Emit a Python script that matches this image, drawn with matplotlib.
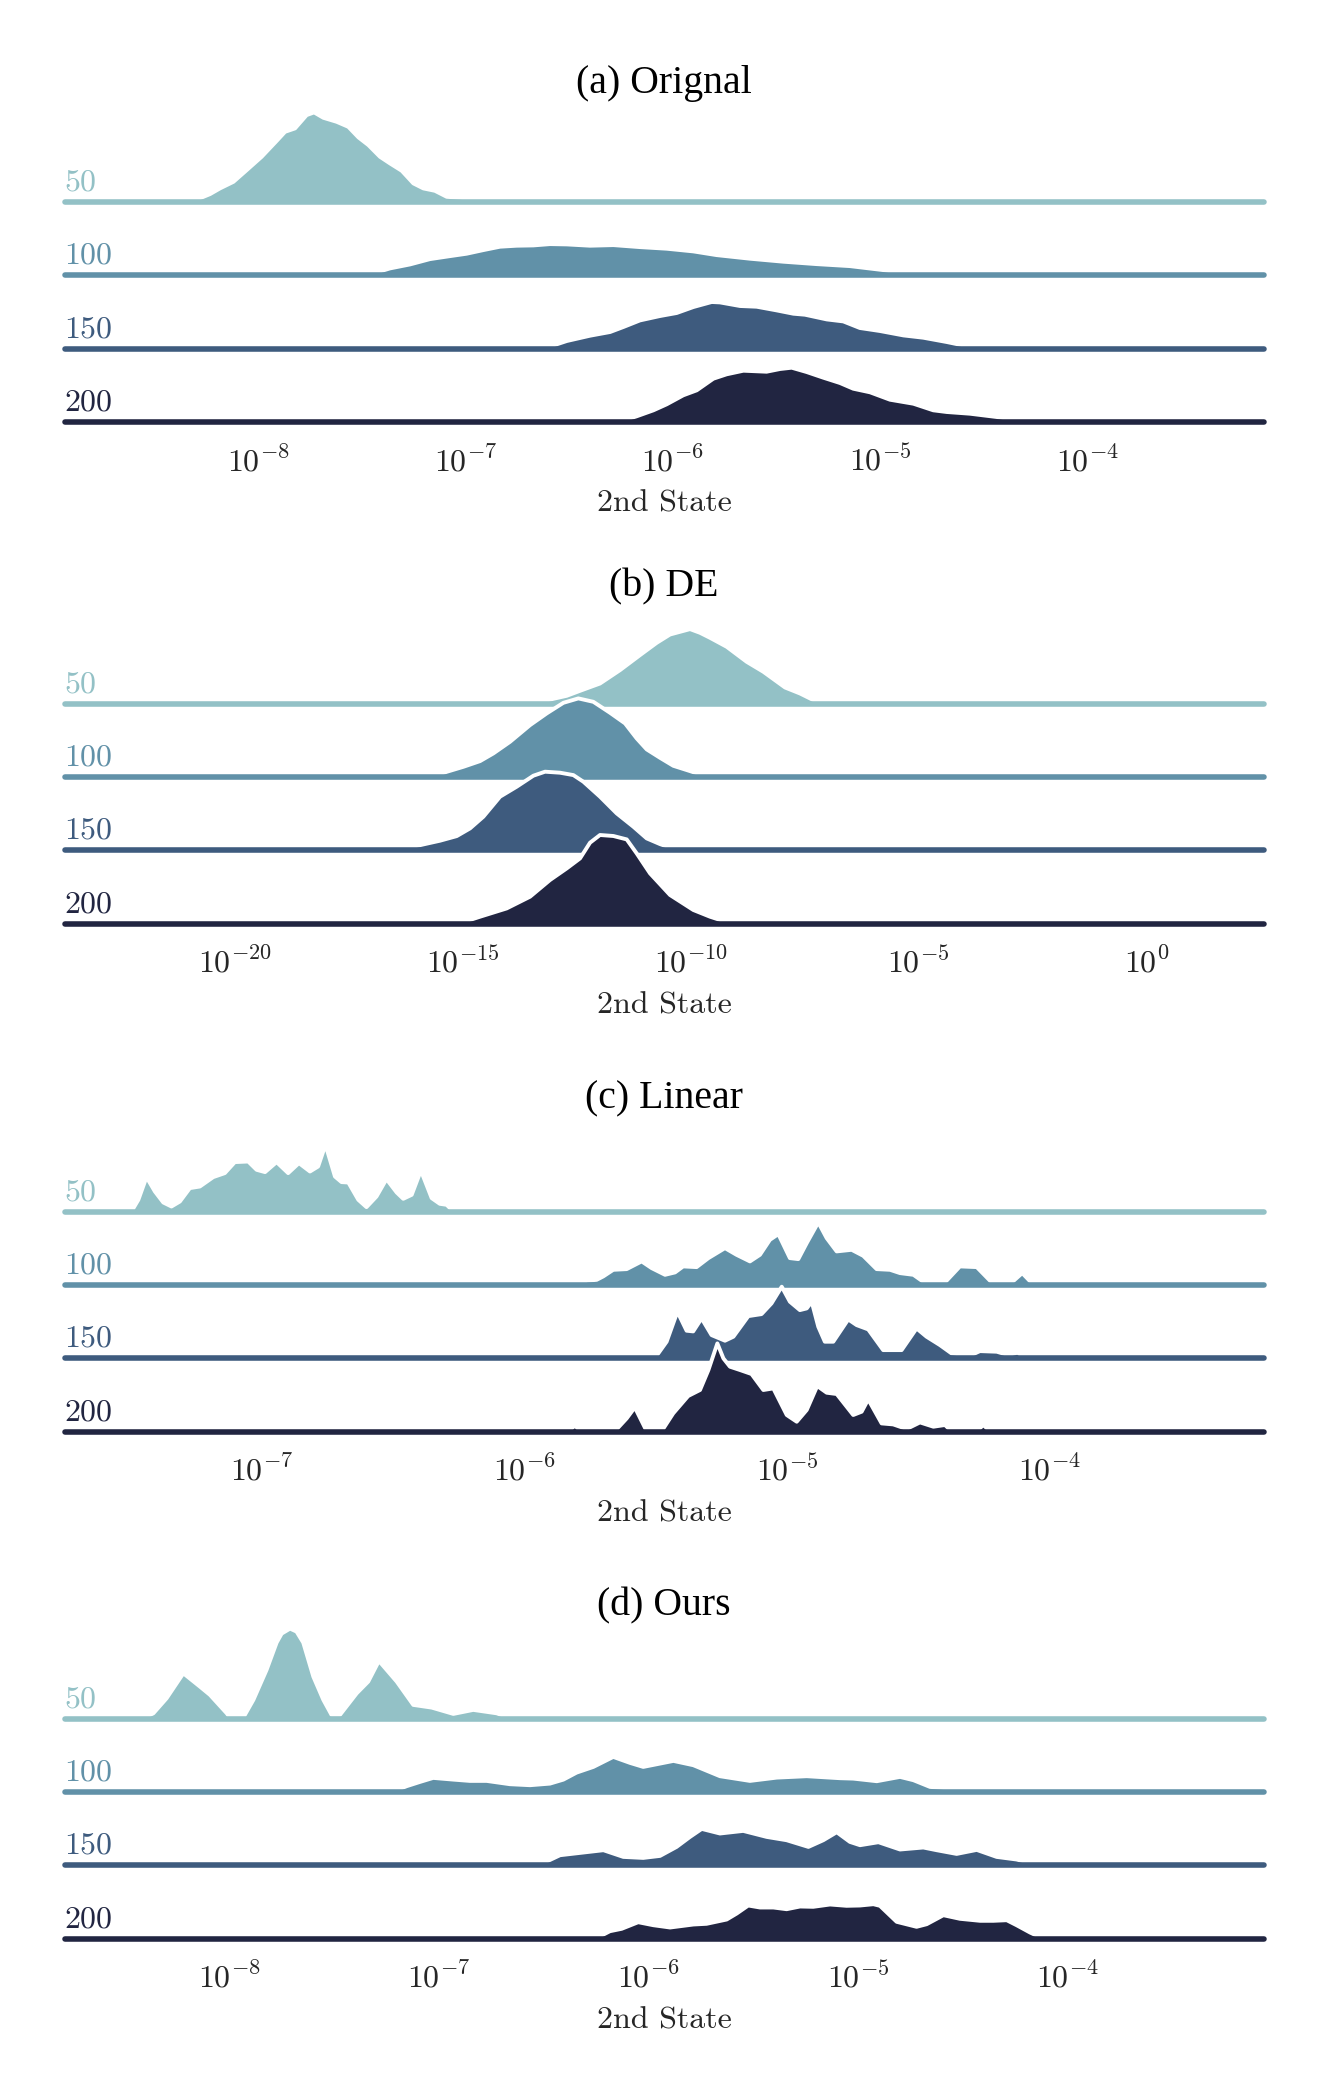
"""Ridge plots of the 2nd State distribution for four methods (log x axis)."""

import matplotlib
matplotlib.use("Agg")
import matplotlib.pyplot as plt
import numpy as np
from matplotlib.ticker import NullLocator
from matplotlib.transforms import blended_transform_factory

plt.rcParams["mathtext.fontset"] = "cm"

ROWS = ["50", "100", "150", "200"]
ROW_COLORS = ["#93c1c6", "#6191a8", "#3e5b7e", "#212541"]
TITLES = ["(a) Orignal", "(b) DE", "(c) Linear", "(d) Ours"]
XLABEL = "2nd State"

# tick exponents (10^k) for each panel
A_TICKS = [-8, -7, -6, -5, -4]
B_TICKS = [-20, -15, -10, -5, 0]
C_TICKS = [-7, -6, -5, -4]
D_TICKS = [-8, -7, -6, -5, -4]

# density outlines: log10(x) and density height
A50_LX = [-8.321, -8.233, -8.185, -8.120, -8.056, -7.984, -7.911, -7.871, -7.823, -7.767, -7.731, -7.686, -7.622,
          -7.566, -7.517, -7.469, -7.413, -7.365, -7.308, -7.252, -7.204, -7.148, -7.091, -7.027, -6.947, -6.882]
A50_Y = [0.5, 8, 13.7, 20.3, 32, 45.3, 61.3, 70.3, 73.7, 87, 89.7, 84.3, 80.3,
         75.3, 64.7, 57, 45.3, 38.7, 31.3, 18.7, 13.7, 11.3, 5.3, 4.3, 2.7, 0]
A100_LX = [-7.469, -7.365, -7.268, -7.172, -7.075, -6.995, -6.915, -6.834, -6.754, -6.673, -6.593, -6.512,
           -6.400, -6.287, -6.159, -6.030, -5.901, -5.789, -5.628, -5.467, -5.307, -5.146, -4.985, -4.856]
A100_Y = [0.5, 7, 11, 16.3, 19.3, 21.7, 25.3, 28.7, 29.7, 30, 31.3, 31,
          29.7, 30.3, 28.3, 26.7, 24, 20.3, 16.7, 13.7, 11.3, 9.3, 5.3, 0.5]
A150_LX = [-6.617, -6.512, -6.400, -6.303, -6.239, -6.159, -6.062, -5.982, -5.901, -5.813, -5.773, -5.676,
           -5.596, -5.499, -5.419, -5.363, -5.258, -5.178, -5.098, -5.001, -4.888, -4.792, -4.679, -4.535]
A150_Y = [0.5, 7.7, 13, 16.7, 21.7, 28.3, 32.7, 35.7, 41.7, 46.7, 46.3, 42.7,
          42, 38.3, 35, 34, 29.3, 27.3, 20.7, 17.7, 13.3, 11, 6.7, 0.5]
A200_LX = [-6.255, -6.175, -6.094, -6.030, -5.950, -5.885, -5.805, -5.741, -5.660, -5.548, -5.483, -5.427,
           -5.355, -5.274, -5.194, -5.130, -5.049, -4.953, -4.840, -4.744, -4.679, -4.567, -4.438, -4.310]
A200_Y = [0.5, 5.7, 11.7, 17.7, 26.7, 31.7, 43.3, 47.7, 51.3, 50.3, 53, 54.3,
          50, 44.3, 39, 33.3, 29.7, 22.3, 18.3, 11.7, 10, 8.3, 5, 0.5]

B50_LX = [-13.377, -13.012, -12.719, -12.427, -11.989, -11.550, -11.112, -10.746, -10.454, -10.235,
          -10.015, -9.796, -9.577, -9.211, -8.773, -8.407, -7.932, -7.603, -7.311, -7.165]
B50_Y = [0.5, 5, 8, 13, 20.3, 33.7, 48.7, 61, 69.3, 72, 74.7, 71, 66, 57, 42, 32, 16.3, 10.3, 3.7, 0.5]
B100_LX = [-15.643, -15.350, -14.985, -14.619, -14.327, -13.962, -13.523, -13.158, -12.792, -12.464,
           -12.135, -11.769, -11.440, -11.185, -10.965, -10.673, -10.381, -10.015, -9.650]
B100_Y = [0.5, 5.3, 10.3, 16, 23.7, 35.3, 52, 63.7, 74.3, 78.7, 75.3, 64.3, 53.7, 38.7, 27.7, 19.3, 11.3, 6, 0.5]
B150_LX = [-16.374, -15.862, -15.497, -15.131, -14.839, -14.546, -14.181, -13.816, -13.450, -13.194,
           -12.866, -12.573, -12.354, -11.989, -11.623, -11.258, -10.965, -10.673, -10.308]
B150_Y = [0.5, 6, 9.7, 14.3, 22, 33.7, 53.7, 63.7, 74.7, 78.7, 77.7, 75.3, 68.7, 53.7, 37, 23.7, 12, 6.3, 0.5]
B200_LX = [-15.058, -14.619, -14.035, -13.523, -13.085, -12.719, -12.427, -12.208, -11.989, -11.696,
           -11.404, -11.185, -10.892, -10.454, -9.942, -9.577, -9.138]
B200_Y = [0.5, 7, 15.3, 27, 43.7, 55.3, 65.3, 81, 88.7, 87.7, 84.3, 70.3, 50.3, 28.7, 13.7, 7, 0.5]

C50_LX = [-7.495, -7.469, -7.438, -7.406, -7.374, -7.343, -7.311, -7.273, -7.235, -7.184, -7.140, -7.102,
          -7.051, -7.019, -6.987, -6.943, -6.899, -6.858, -6.816, -6.785, -6.757, -6.721, -6.696, -6.670,
          -6.632, -6.601, -6.563, -6.525, -6.486, -6.461, -6.429, -6.394, -6.353, -6.322, -6.296, -6.271]
C50_Y = [0.5, 12, 34.7, 20.3, 9.3, 5.3, 10.3, 23.7, 25.3, 34.7, 38.7, 49.7,
         50.3, 42, 39.7, 49.7, 38.7, 48.7, 40.3, 45.3, 67, 35.3, 29.7, 29.3,
         12, 4.7, 15.3, 32.7, 19.3, 13, 17, 41.3, 13.7, 8, 7, 0.5]
C100_LX = [-5.789, -5.763, -5.725, -5.700, -5.662, -5.611, -5.554, -5.516, -5.465, -5.427, -5.396, -5.345,
           -5.300, -5.237, -5.193, -5.142, -5.104, -5.066, -5.034, -4.990, -4.958, -4.926, -4.882, -4.850,
           -4.812, -4.755, -4.711, -4.660, -4.609, -4.571, -4.520, -4.470, -4.406, -4.343, -4.279, -4.216,
           -4.153, -4.106, -4.064]
C100_Y = [0.5, 4.3, 5.3, 8.7, 15.3, 16, 23.7, 17, 10.3, 12.7, 18.7, 18,
          27, 37, 30.3, 23.7, 30.3, 45.3, 51, 27, 26, 42, 62.7, 47,
          33.7, 35.3, 29.3, 16, 15.3, 12, 10.3, 1, 1, 18.7, 18, 1,
          1, 12, 0.5]
C150_LX = [-5.503, -5.459, -5.418, -5.383, -5.358, -5.326, -5.288, -5.237, -5.205, -5.148, -5.098, -5.060,
           -5.021, -4.990, -4.952, -4.926, -4.907, -4.882, -4.857, -4.825, -4.768, -4.736, -4.692, -4.635,
           -4.565, -4.508, -4.470, -4.419, -4.375, -4.305, -4.267, -4.203, -4.159, -4.124, -4.095]
C150_Y = [0.5, 16.7, 46.7, 27.7, 27, 40, 23.3, 17.7, 21.7, 42.3, 44.3, 55,
          71.7, 56.7, 48.3, 50, 56.7, 31.7, 16.7, 16.7, 39, 33.3, 29, 8.3,
          8.3, 30, 21.7, 13.3, 5, 2.7, 7.3, 6.7, 3.3, 5.7, 0.5]
C200_LX = [-5.833, -5.808, -5.786, -5.656, -5.611, -5.580, -5.535, -5.478, -5.434, -5.377, -5.332, -5.300,
           -5.266, -5.243, -5.218, -5.180, -5.136, -5.091, -5.053, -5.002, -4.964, -4.926, -4.886, -4.850,
           -4.812, -4.749, -4.717, -4.692, -4.641, -4.597, -4.546, -4.495, -4.444, -4.400, -4.375, -4.279,
           -4.254, -4.229]
C200_Y = [0.5, 6, 0.5, 0.5, 13.3, 24.3, 0.5, 0.5, 18.3, 35.7, 41.7, 61.7,
          88.3, 73.3, 65, 61.7, 57.7, 41.7, 43.3, 16.7, 10, 21.7, 45.7, 39,
          37.7, 16.7, 20, 32.3, 8.3, 7.3, 2.7, 9.3, 5, 6.7, 0.5, 0.5,
          6.7, 0.5]

D50_LX = [-8.411, -8.363, -8.300, -8.220, -8.141, -8.093, -8.013, -7.998, -7.934, -7.886, -7.823, -7.775,
          -7.751, -7.711, -7.680, -7.648, -7.600, -7.552, -7.513, -7.473, -7.393, -7.338, -7.287, -7.202,
          -7.123, -7.035, -6.932, -6.837, -6.725, -6.662]
D50_Y = [0.5, 5.3, 20.3, 45.3, 32, 23.7, 5.3, 1, 1, 18.7, 48.7, 76,
         85, 90, 87, 76, 42, 18.7, 3.7, 3.7, 25.3, 37, 57.7, 37,
         13.7, 11, 4.7, 8.7, 5.3, 0.5]
D100_LX = [-7.218, -7.155, -7.091, -7.028, -6.932, -6.853, -6.773, -6.662, -6.566, -6.471, -6.407, -6.344,
           -6.264, -6.169, -6.089, -6.026, -5.882, -5.787, -5.660, -5.517, -5.389, -5.246, -5.087, -5.024,
           -4.912, -4.801, -4.737, -4.658, -4.563, -4.467]
D100_Y = [0.5, 5.7, 10, 14, 12.3, 11, 11, 7.7, 6.7, 8.3, 12.3, 19.3,
          25, 35, 29, 25, 31, 26.7, 15.7, 11, 14.3, 15.7, 13.7, 13.3,
          10.7, 15, 11.7, 5, 3.3, 0.5]
D150_LX = [-6.519, -6.423, -6.328, -6.216, -6.121, -6.026, -5.946, -5.867, -5.803, -5.747, -5.660, -5.549,
           -5.437, -5.342, -5.238, -5.167, -5.103, -5.040, -4.992, -4.904, -4.801, -4.690, -4.626, -4.531,
           -4.435, -4.340, -4.245, -4.149]
D150_Y = [0.5, 10, 12.3, 15, 8.3, 7.3, 9.3, 18.3, 28.3, 36.3, 31.7, 34.3,
          28.3, 25, 18.3, 25, 33, 23.3, 20, 23, 15.7, 17.7, 15, 11.3,
          15.3, 8.3, 5.7, 0.5]
D200_LX = [-6.248, -6.185, -6.129, -6.050, -5.978, -5.898, -5.787, -5.724, -5.628, -5.580, -5.525, -5.469,
           -5.405, -5.342, -5.278, -5.215, -5.135, -5.056, -4.992, -4.928, -4.897, -4.817, -4.722, -4.674,
           -4.594, -4.515, -4.419, -4.356, -4.292, -4.245, -4.181, -4.125]
D200_Y = [0.5, 7.3, 9.7, 16.3, 13.3, 11, 14, 14.7, 19, 25, 33, 31,
          31, 29.3, 32, 31.7, 34, 32.7, 33, 34.3, 32.7, 16.7, 11.7, 14.3,
          23.3, 19.7, 17.7, 17.7, 18.3, 13.3, 6, 0.5]

W, H, DPI = 1328, 2100, 200
PT = 72 / DPI          # points per pixel
ROW_STEP = 73.3        # vertical gap between ridges (density units)
AX_LEFT, AX_WIDTH, AX_HEIGHT = 64.5, 1199, 320


def main() -> None:
    panels = [
        (TITLES[0], A_TICKS, [(A50_LX, A50_Y), (A100_LX, A100_Y), (A150_LX, A150_Y), (A200_LX, A200_Y)],
         (-8.935, -3.151), 422, 93),
        (TITLES[1], B_TICKS, [(B50_LX, B50_Y), (B100_LX, B100_Y), (B150_LX, B150_Y), (B200_LX, B200_Y)],
         (-23.73, 2.558), 923.7, 596.7),
        (TITLES[2], C_TICKS, [(C50_LX, C50_Y), (C100_LX, C100_Y), (C150_LX, C150_Y), (C200_LX, C200_Y)],
         (-7.750, -3.188), 1431.7, 1108.3),
        (TITLES[3], D_TICKS, [(D50_LX, D50_Y), (D100_LX, D100_Y), (D150_LX, D150_Y), (D200_LX, D200_Y)],
         (-8.787, -3.067), 1938.5, 1615),
    ]

    fig = plt.figure(figsize=(W / DPI, H / DPI), dpi=DPI, facecolor="white")
    for title, ticks, curves, xlim, bottom_px, title_px in panels:
        ax = fig.add_axes([AX_LEFT / W, 1 - bottom_px / H, AX_WIDTH / W, AX_HEIGHT / H])
        ax.patch.set_alpha(0)
        ax.set_xscale("log")
        ax.set_xlim(10.0 ** xlim[0], 10.0 ** xlim[1])
        ax.set_ylim(0, AX_HEIGHT)
        trans = blended_transform_factory(ax.transAxes, ax.transData)

        for i, (lx, dens) in enumerate(curves):
            off = (len(curves) - 1 - i) * ROW_STEP
            x = 10.0 ** np.asarray(lx)
            y = off + np.asarray(dens)
            z = 10 + 3 * i  # later rows sit on top of earlier ones
            ax.fill_between(x, off, y, color=ROW_COLORS[i], lw=0, zorder=z)
            ax.plot(x, y, color="white", lw=1.4, zorder=z + 1, solid_joinstyle="round")
            ax.axhline(off, color=ROW_COLORS[i], lw=2, zorder=z + 2, clip_on=False, solid_capstyle="round")
            ax.text(0, off + 11.5, ROWS[i], transform=trans, ha="left", va="baseline",
                    family="cmr10", fontsize=11.5, color=ROW_COLORS[i], zorder=50)

        for s in ax.spines.values():
            s.set_visible(False)
        ax.set_yticks([])
        ax.set_xticks([10.0 ** t for t in ticks], [rf"$10^{{{t}}}$" for t in ticks])
        ax.xaxis.set_minor_locator(NullLocator())
        ax.tick_params(axis="x", length=0, pad=8.8, labelsize=11.5, labelcolor="0.15")
        ax.annotate(XLABEL, xy=(0.5, 0), xycoords="axes fraction", xytext=(0, -89.7 * PT),
                    textcoords="offset points", ha="center", va="baseline",
                    family="cmr10", fontsize=11.5, color="0.15")
        fig.text(0.5, 1 - title_px / H, title, ha="center", va="baseline",
                 family="Liberation Serif", fontsize=14.3, color="black")

    fig.savefig("out.png", dpi=DPI)
    plt.close(fig)


if __name__ == "__main__":
    main()
